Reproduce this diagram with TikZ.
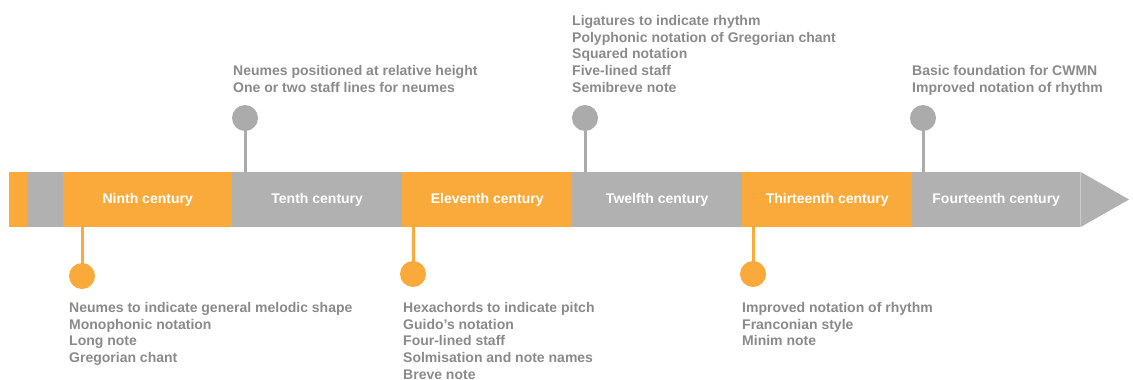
\documentclass[tikz,border=0pt]{standalone}
\usepackage{fontspec}
\setmainfont{Liberation Sans}
\definecolor{tlorange}{HTML}{F9AA3A}
\definecolor{tlgray}{HTML}{B1B1B1}
\definecolor{dotgray}{HTML}{ABABAB}
\definecolor{txtgray}{HTML}{8A8A8A}
\begin{document}
\begin{tikzpicture}[x=1pt,y=-1pt,
  seg/.style={draw=none, inner sep=0pt, minimum height=55pt, anchor=west, text=white,
    font=\bfseries\fontsize{14}{16}\selectfont},
  dotnode/.style={circle, draw=none, inner sep=0pt, minimum size=26pt},
  stem/.style={line width=3pt},
  txt/.style={anchor=north west, inner sep=0pt, align=left, text=txtgray,
    font=\bfseries\fontsize{14}{16.8}\selectfont}]
\useasboundingbox (0,0) rectangle (1133,380);
% bar segments
\node[seg, fill=tlorange, minimum width=18pt] (s0) at (9,199.5) {};
\node[seg, fill=tlgray, minimum width=36pt] (s1) at (27,199.5) {};
\node[seg, fill=tlorange, minimum width=169pt] (s9) at (63,199.5) {Ninth century};
\node[seg, fill=tlgray, minimum width=170pt] (s10) at (232,199.5) {Tenth century};
\node[seg, fill=tlorange, minimum width=170pt] (s11) at (402,199.5) {Eleventh century};
\node[seg, fill=tlgray, minimum width=170pt] (s12) at (572,199.5) {Twelfth century};
\node[seg, fill=tlorange, minimum width=170pt] (s13) at (742,199.5) {Thirteenth century};
\node[seg, fill=tlgray, minimum width=168pt] (s14) at (912,199.5) {Fourteenth century};
\coordinate (tip) at (1129,199.5);
\fill[tlgray] (s14.north east) -- (tip) -- (s14.south east) -- cycle;
% dots
\node[dotnode, fill=tlorange] (d9) at (82,276) {};
\node[dotnode, fill=dotgray] (d10) at (245,118) {};
\node[dotnode, fill=tlorange] (d11) at (413,274) {};
\node[dotnode, fill=dotgray] (d12) at (585,118) {};
\node[dotnode, fill=tlorange] (d13) at (753,274) {};
\node[dotnode, fill=dotgray] (d14) at (923,118) {};
% stems
\draw[stem, tlorange] (d9.center) -- (d9.center |- s9.south);
\draw[stem, dotgray] (d10.center) -- (d10.center |- s10.north);
\draw[stem, tlorange] (d11.center) -- (d11.center |- s11.south);
\draw[stem, dotgray] (d12.center) -- (d12.center |- s12.north);
\draw[stem, tlorange] (d13.center) -- (d13.center |- s13.south);
\draw[stem, dotgray] (d14.center) -- (d14.center |- s14.north);
% texts
\node[txt] (t9) at (69,302) {Neumes to indicate general melodic shape\\Monophonic notation\\Long note\\Gregorian chant};
\node[txt] (t10) at (233,65) {Neumes positioned at relative height\\One or two staff lines for neumes};
\node[txt] (t11) at (403,302) {Hexachords to indicate pitch\\Guido’s notation\\Four-lined staff\\Solmisation and note names\\Breve note};
\node[txt] (t12) at (572,15) {Ligatures to indicate rhythm\\Polyphonic notation of Gregorian chant\\Squared notation\\Five-lined staff\\Semibreve note};
\node[txt] (t13) at (742,302) {Improved notation of rhythm\\Franconian style\\Minim note};
\node[txt] (t14) at (912,65) {Basic foundation for CWMN\\Improved notation of rhythm};
\end{tikzpicture}
\end{document}
